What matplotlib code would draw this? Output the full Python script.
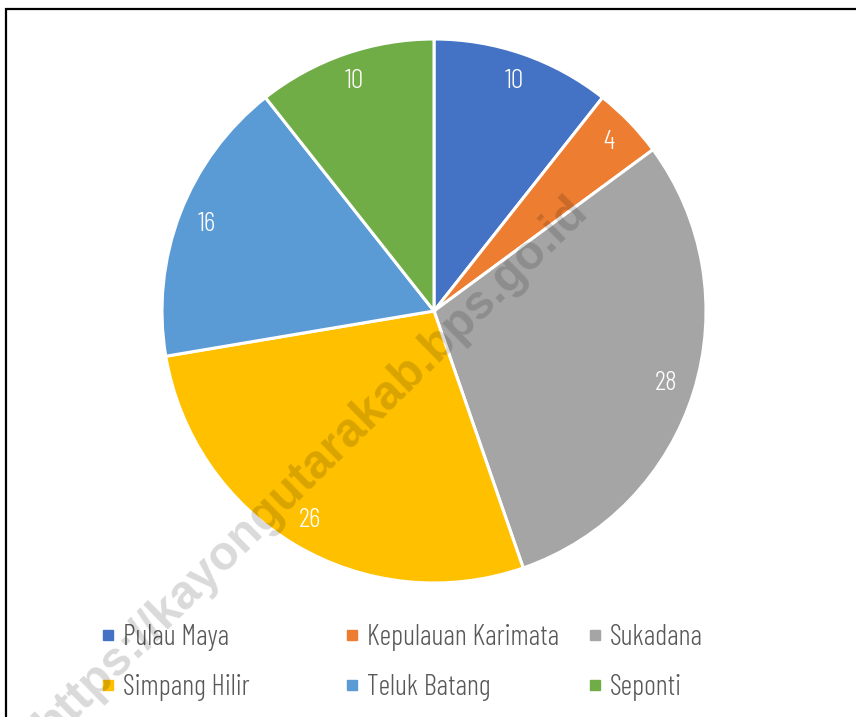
import matplotlib.pyplot as plt
from matplotlib.patches import Rectangle
from matplotlib.lines import Line2D

plt.rcParams['font.family'] = ['Barlow Condensed', 'DejaVu Sans']
plt.rcParams['font.weight'] = 300

districts = ['Pulau Maya', 'Kepulauan Karimata', 'Sukadana',
             'Simpang Hilir', 'Teluk Batang', 'Seponti']
values = [10, 4, 28, 26, 16, 10]
colors = ['#4472C4', '#ED7D31', '#A5A5A5', '#FFC000', '#5B9BD5', '#70AD47']

W, H = 856, 717
fig = plt.figure(figsize=(W / 100, H / 100), dpi=100)

# pie centred at about (434, 311) px, radius 272 px
cx, cy, r = 434, 311, 272
ax = fig.add_axes([(cx - r) / W, 1 - (cy + r) / H, 2 * r / W, 2 * r / H])
wedges, texts = ax.pie(values, colors=colors, startangle=90, counterclock=False,
                       labels=[str(v) for v in values], labeldistance=0.895,
                       wedgeprops=dict(edgecolor='white', linewidth=2.2))
for t in texts:
    t.set_color('white')
    t.set_fontsize(20)
    t.set_fontweight(300)
    t.set_ha('center')
    t.set_va('center')
ax.set_xlim(-1, 1)
ax.set_ylim(-1, 1)
ax.set_aspect('equal')
ax.axis('off')

# legend: three columns of equal width, two rows
col_x = [100, 344, 587]
for j in range(3):
    handles = []
    for i in (j, j + 3):
        handles.append(Line2D([], [], marker='s', linestyle='none',
                              markersize=6.5, markerfacecolor=colors[i],
                              markeredgecolor=colors[i], label=districts[i]))
    fig.legend(handles=handles, loc='upper left',
               bbox_to_anchor=(col_x[j] / W, 1 - 624 / H),
               frameon=False, prop=dict(family='Barlow Condensed', weight=300, size=20.5),
               labelcolor='#595959',
               handlelength=0.55, handletextpad=0.25, labelspacing=0.8,
               borderpad=0, borderaxespad=0)

# outer frame (cut off at the right and bottom)
fig.add_artist(Rectangle((6 / W, -0.1), 1.2, 1.1 - 9 / H, transform=fig.transFigure,
                         fill=False, edgecolor='black', linewidth=1.6))

# watermark
fig.text(312 / W, 1 - 468 / H, 'https://kayongutarakab.bps.go.id',
         rotation=44.5, ha='center', va='center', fontsize=34.5,
         fontweight='bold', family='Liberation Sans', color='black', alpha=0.15,
         zorder=10)

fig.savefig('out.png', dpi=100)
